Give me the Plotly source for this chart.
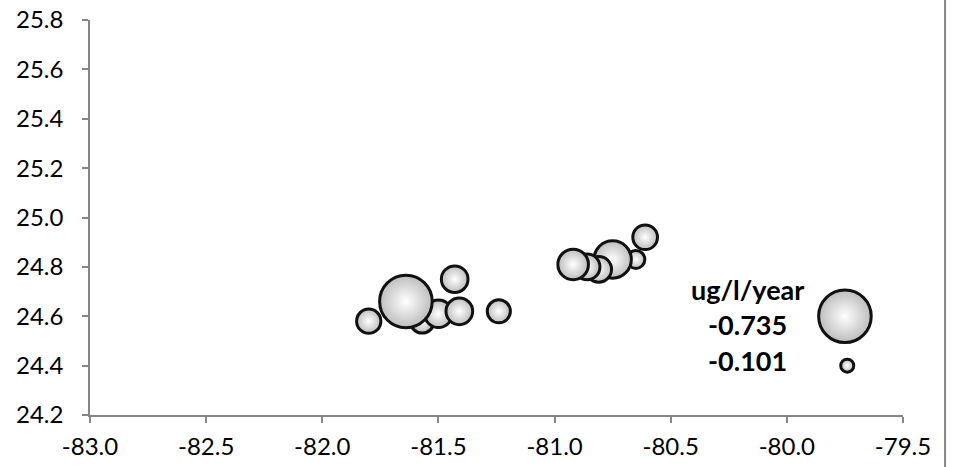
import plotly.graph_objects as go

# Station longitudes / latitudes and trend values (ug/l/year)
lon = [-81.57, -81.50, -81.64, -81.80, -81.41, -81.43, -81.24,
       -80.65, -80.75, -80.81, -80.86, -80.92, -80.61]
lat = [24.58, 24.61, 24.66, 24.58, 24.62, 24.75, 24.62,
       24.83, 24.83, 24.79, 24.80, 24.81, 24.92]
trend = [-0.273, -0.335, -0.735, -0.282, -0.320, -0.320, -0.263,
         -0.179, -0.491, -0.304, -0.304, -0.382, -0.288]

# Legend bubbles
leg_lon = [-79.75, -79.74]
leg_lat = [24.60, 24.40]
leg_val = [-0.735, -0.101]
leg_title = "ug/l/year"

x_ticks = [-83.0, -82.5, -82.0, -81.5, -81.0, -80.5, -80.0, -79.5]
y_ticks = [24.2, 24.4, 24.6, 24.8, 25.0, 25.2, 25.4, 25.6, 25.8]

LW = 3
vmax, vmin = 0.735, 0.101
dmax, dmin = 55.6, 16.0


def to_size(v):
    a = abs(v)
    d = dmin + (a - vmin) * (dmax - dmin) / (vmax - vmin)
    return d - LW


marker_common = dict(
    color="#bdbdbd",
    gradient=dict(type="radial", color="#ffffff"),
    line=dict(color="#111111", width=LW),
    opacity=1,
)

fig = go.Figure()
fig.add_trace(go.Scatter(
    x=lon, y=lat, mode="markers",
    marker=dict(size=[to_size(v) for v in trend], **marker_common),
    showlegend=False, hoverinfo="skip",
))
fig.add_trace(go.Scatter(
    x=leg_lon, y=leg_lat, mode="markers",
    marker=dict(size=[to_size(v) for v in leg_val], **marker_common),
    showlegend=False, hoverinfo="skip",
))

txt_font = dict(family="Lato", size=27, color="#000000")
lx = -80.17
fig.add_annotation(x=lx, y=24.71, text="<b>" + leg_title + "</b>",
                   showarrow=False, font=txt_font, xanchor="center", yanchor="middle")
fig.add_annotation(x=lx, y=24.565, text="<b>%.3f</b>" % leg_val[0],
                   showarrow=False, font=txt_font, xanchor="center", yanchor="middle")
fig.add_annotation(x=lx, y=24.42, text="<b>%.3f</b>" % leg_val[1],
                   showarrow=False, font=txt_font, xanchor="center", yanchor="middle")

axis_color = "#868686"
tick_font = dict(family="Lato", size=24, color="#000000")

fig.update_layout(
    width=953, height=467,
    margin=dict(l=90, r=50, t=20, b=52),
    paper_bgcolor="white", plot_bgcolor="white",
    xaxis=dict(range=[-83.0, -79.5], tickvals=x_ticks,
               ticktext=["%.1f" % v for v in x_ticks],
               showgrid=False, zeroline=False, showline=True,
               linecolor=axis_color, linewidth=1.5, automargin=False,
               ticks="outside", ticklen=6, tickcolor=axis_color, tickwidth=1.5,
               tickfont=tick_font, ticklabelstandoff=3),
    yaxis=dict(range=[24.2, 25.8], tickvals=y_ticks,
               ticktext=["%.1f" % v for v in y_ticks],
               showgrid=False, zeroline=False, showline=True,
               linecolor=axis_color, linewidth=1.5, automargin=False,
               ticks="outside", ticklen=6, tickcolor=axis_color, tickwidth=1.5,
               tickfont=tick_font, ticklabelstandoff=14),
    shapes=[dict(type="line", xref="paper", yref="paper",
                 x0=1.0517, x1=1.0517, y0=-0.2, y1=1.1,
                 line=dict(color=axis_color, width=2))],
)

fig.write_html("out.html")
